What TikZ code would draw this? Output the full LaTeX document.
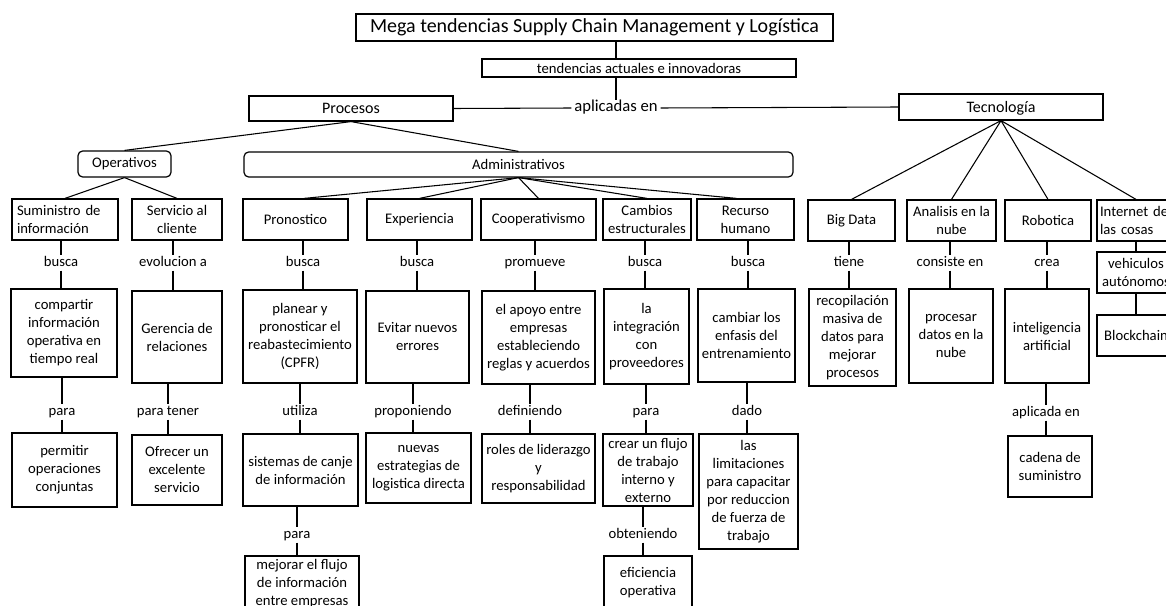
\documentclass[tikz,border=0pt]{standalone}
\usepackage{fontspec}
\setmainfont{Carlito}
\usetikzlibrary{calc}

% box given by its corners in pixel units: [options]{name}{x1}{y1}{x2}{y2}{text}
\newcommand\placebox[7][]{%
  \pgfmathsetmacro\bw{(#5-#3)*0.75}%
  \pgfmathsetmacro\bh{(#6-#4)*0.75}%
  \node[box, minimum width=\bw pt, minimum height=\bh pt, #1] (#2) at ({(#3+#5)/2},{(#4+#6)/2}) {#7};}

% vertical connector broken by a label: {upper box}{label}{lower box}
\newcommand\vlink[3]{%
  \draw[link] (#1.south -| #2) -- (#2.north);
  \draw[link] (#2.south) -- (#3.north -| #2);}

\tikzset{
  txt/.style={font=\fontsize{11}{13.5}\selectfont},
  box/.style={draw, line width=0.9pt, inner sep=1pt, align=center, txt},
  rbox/.style={box, rounded corners=3.5pt},
  lbl/.style={inner sep=0.8pt, text height=1.6ex, text depth=0.4ex, txt},
  link/.style={line width=0.8pt},
}

\begin{document}
\begin{tikzpicture}[x=0.75pt, y=-0.75pt]
\fill[white] (0,0) rectangle (1166,606);
\useasboundingbox (0,0) rectangle (1166,606);
\clip (0,0) rectangle (1166,606);

% ---- top of the map
\placebox[font=\fontsize{15}{18}\selectfont]{title}{356}{14}{833}{41}{Mega tendencias Supply Chain Management y Logística}
\placebox[font=\fontsize{11}{13}\selectfont]{tend}{482}{59}{796}{77}{tendencias actuales e innovadoras}
\node[lbl, inner xsep=2pt, font=\fontsize{12.5}{15}\selectfont] (aplic) at (616,108) {aplicadas en};
\placebox[font=\fontsize{12}{14.5}\selectfont]{proc}{249}{96}{453}{121}{Procesos}
\placebox[font=\fontsize{12}{14.5}\selectfont, text depth=0pt]{tec}{899}{94}{1103}{120}{Tecnología}

\draw[link] (title.south -| aplic) -- (tend.north -| aplic);
\draw[link] (tend.south -| aplic) -- (aplic.north);
\draw[link] (proc.east) -- (aplic.west);
\draw[link] (aplic.east) -- (tec.west);

% ---- process groups
\placebox[rbox]{oper}{78}{151}{171}{177}{Operativos}
\placebox[rbox]{admin}{244}{152}{793}{177}{Administrativos}
\draw[link] (proc.south) -- (oper.north);
\draw[link] (proc.south) -- (admin.north);

% ---- first row
\placebox[text width=72pt, inner xsep=3.75pt, align=left]{sum}{12}{199}{118}{240}{Suministro de\\información}
\placebox{serv}{132}{199}{222}{240}{Servicio al\\cliente}
\placebox{pron}{243}{199}{348}{240}{Pronostico}
\placebox{exp}{367}{199}{472}{240}{Experiencia}
\placebox{coop}{481}{199}{596}{240}{Cooperativismo}
\placebox{camb}{603}{199}{691}{240}{Cambios\\estructurales}
\placebox{rec}{697}{199}{794}{240}{Recurso\\humano}
\placebox{big}{808}{200}{895}{241}{Big Data}
\placebox{ana}{907}{200}{996}{241}{Analisis en la\\nube}
\placebox{rob}{1005}{200}{1091}{241}{Robotica}
\placebox[text width=54pt, inner xsep=2.25pt, align=left]{iot}{1097}{200}{1175}{241}{Internet de\\las cosas}

\foreach \n in {sum,serv} \draw[link] (oper.south) -- (\n.north);
\draw[link] (admin.south) -- ($(pron.north west)!0.58!(pron.north east)$);
\foreach \n in {exp,coop,camb} \draw[link] (admin.south) -- (\n.north);
\draw[link] (admin.south) -- ($(rec.north west)!0.41!(rec.north east)$);
\foreach \n in {big,ana,rob,iot} \draw[link] (tec.south) -- (\n.north);

% ---- first labels
\node[lbl] (l1) at (61,263) {busca};
\node[lbl] (l2) at (173,263) {evolucion a};
\node[lbl] (l3) at (303,263) {busca};
\node[lbl] (l4) at (417,263) {busca};
\node[lbl] (l5) at (535,263) {promueve};
\node[lbl] (l6) at (645,263) {busca};
\node[lbl] (l7) at (748,263) {busca};
\node[lbl] (l8) at (849,263) {tiene};
\node[lbl] (l9) at (950,263) {consiste en};
\node[lbl] (l10) at (1047,263) {crea};

% ---- second row
\placebox{b1}{11}{289}{117}{377}{compartir\\información\\operativa en\\tiempo real}
\placebox{b2}{132}{291}{222}{383}{Gerencia de\\relaciones}
\placebox[inner xsep=0pt]{b3}{243}{290}{357}{383}{planear y\\pronosticar el\\reabastecimiento\\(CPFR)}
\placebox{b4}{366}{291}{469}{383}{Evitar nuevos\\errores}
\placebox{b5}{482}{291}{595}{384}{el apoyo entre\\empresas\\estableciendo\\reglas y acuerdos}
\placebox{b6}{604}{289}{689}{384}{la\\integración\\con\\proveedores}
\placebox{b7}{698}{289}{795}{382}{cambiar los\\enfasis del\\entrenamiento}
\placebox{b8}{809}{289}{896}{386}{recopilación\\masiva de\\datos para\\mejorar\\procesos}
\placebox{b9}{909}{289}{993}{383}{procesar\\datos en la\\nube}
\placebox{b10}{1005}{289}{1089}{383}{inteligencia\\artificial}
\placebox{v1}{1097}{252}{1175}{293}{vehiculos\\autónomos}
\placebox{v2}{1097}{315}{1175}{356}{Blockchain}

\vlink{sum}{l1}{b1}
\vlink{serv}{l2}{b2}
\vlink{pron}{l3}{b3}
\vlink{exp}{l4}{b4}
\vlink{coop}{l5}{b5}
\vlink{camb}{l6}{b6}
\vlink{rec}{l7}{b7}
\vlink{big}{l8}{b8}
\vlink{ana}{l9}{b9}
\vlink{rob}{l10}{b10}
\draw[link] (iot) -- (v1);
\draw[link] (v1) -- (v2);

% ---- second labels
\node[lbl] (m1) at (62,412) {para};
\node[lbl] (m2) at (168,412) {para tener};
\node[lbl] (m3) at (300,412) {utiliza};
\node[lbl] (m4) at (413,412) {proponiendo};
\node[lbl] (m5) at (530,412) {definiendo};
\node[lbl] (m6) at (646,412) {para};
\node[lbl] (m7) at (747,412) {dado};
\node[lbl] (m10) at (1046,413) {aplicada en};

% ---- third row
\placebox{c1}{12}{433}{117}{507}{permitir\\operaciones\\conjuntas}
\placebox{c2}{132}{435}{222}{505}{Ofrecer un\\excelente\\servicio}
\placebox{c3}{243}{434}{358}{506}{sistemas de canje\\de información}
\placebox{c4}{366}{433}{471}{503}{nuevas\\estrategias de\\logistica directa}
\placebox{c5}{482}{434}{595}{503}{roles de liderazgo\\y\\responsabilidad}
\placebox[inner ysep=0pt]{c6}{603}{434}{693}{506}{crear un flujo\\de trabajo\\interno y\\externo}
\placebox{c7}{699}{434}{798}{549}{las\\limitaciones\\para capacitar\\por reduccion\\de fuerza de\\trabajo}
\placebox{c10}{1008}{436}{1092}{497}{cadena de\\suministro}

\vlink{b1}{m1}{c1}
\vlink{b2}{m2}{c2}
\vlink{b3}{m3}{c3}
\vlink{b4}{m4}{c4}
\vlink{b5}{m5}{c5}
\vlink{b6}{m6}{c6}
\vlink{b7}{m7}{c7}
\vlink{b10}{m10}{c10}

% ---- fourth row
\node[lbl] (n3) at (297,535) {para};
\node[lbl] (n6) at (643,535) {obteniendo};
\placebox{d3}{245}{556}{359}{612}{mejorar el flujo\\de información\\entre empresas}
\placebox{d6}{604}{556}{692}{610}{eficiencia\\operativa}
\vlink{c3}{n3}{d3}
\vlink{c6}{n6}{d6}
\end{tikzpicture}
\end{document}
